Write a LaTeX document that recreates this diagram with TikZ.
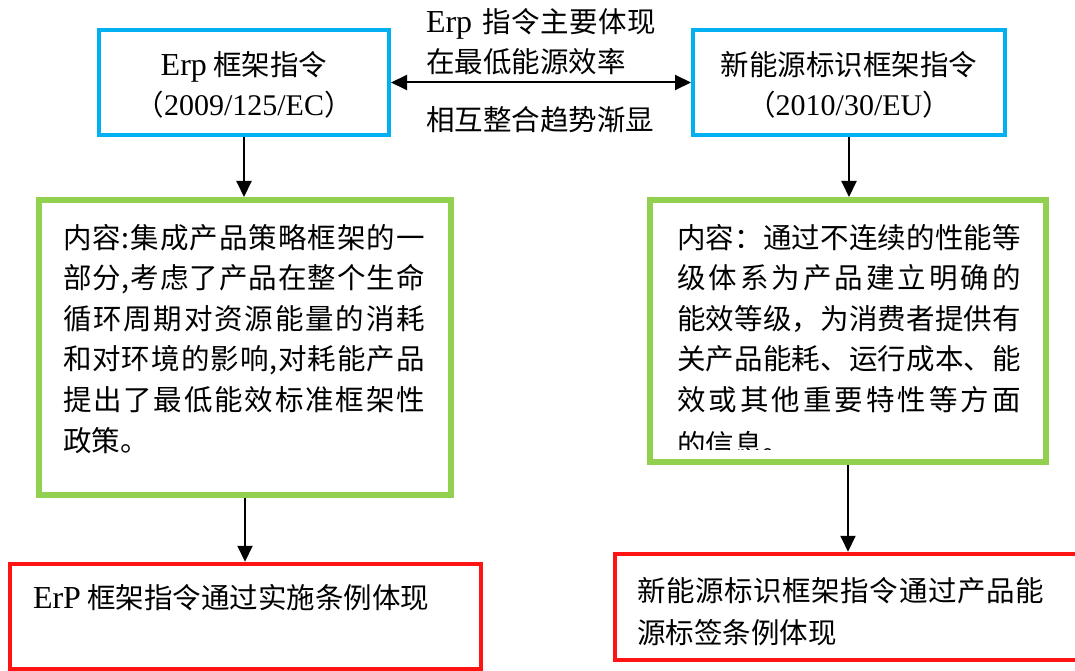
\documentclass[tikz,border=0pt]{standalone}
\usepackage{fontspec}
\setmainfont{Liberation Serif}
\newfontfamily\cjk{Noto Sans CJK SC}
\usetikzlibrary{arrows.meta}
\definecolor{boxblue}{RGB}{0,176,240}
\definecolor{boxgreen}{RGB}{146,208,80}
\definecolor{boxred}{RGB}{255,20,20}
\def\sprA#1{#1\sprB}
\def\sprB#1{\ifx#1\relax\else\hfill#1\expandafter\sprB\fi}
\newcommand\jl[2]{\makebox[#1][s]{\sprA#2\relax}}
\newcommand\fs{\fontsize{28.5}{34}\selectfont}
\newcommand\latw[1]{{\fontsize{32}{34}\selectfont\rmfamily #1}}
\newcommand\latn[1]{{\fontsize{30}{34}\selectfont\rmfamily #1}}
\tikzset{
  frame/.style={draw, inner sep=0pt},
  bluebox/.style={frame, draw=boxblue, line width=4pt},
  greenbox/.style={frame, draw=boxgreen, line width=6pt},
  redbox/.style={frame, draw=boxred, line width=4.5pt},
  txt/.style={inner sep=0pt, outer sep=0pt, font=\fs\cjk, text=black},
  arr/.style={line width=2pt, -{Triangle[length=16pt,width=15pt]}},
  darr/.style={line width=2pt, {Triangle[length=16pt,width=15pt]}-{Triangle[length=16pt,width=15pt]}}
}
\begin{document}
\begin{tikzpicture}[x=1pt,y=-1pt]
\useasboundingbox (0,0) rectangle (1075,671);
% boxes
\node[bluebox, minimum width=290pt, minimum height=105pt] (tl) at (244,82.5) {};
\node[bluebox, minimum width=312pt, minimum height=105pt] (tr) at (849,82.5) {};
\node[greenbox, minimum width=412pt, minimum height=295pt] (gl) at (245,347.5) {};
\node[greenbox, minimum width=396pt, minimum height=262pt] (gr) at (848,331) {};
\node[redbox, minimum width=471pt, minimum height=105pt] (rl) at (245.5,616.5) {};
\node[redbox, minimum width=475pt, minimum height=106pt] (rr) at (852.5,607) {};
% connectors
\draw[darr] (tl.east) -- (tr.west);
\draw[arr] (tl.south) -- (tl.south |- gl.north);
\draw[arr] (gl.south) -- (gl.south |- rl.north);
\draw[arr] (tr.south) -- (tr.south |- gr.north);
\draw[arr] (gr.south) -- (gr.south |- rr.north);
% top box texts
\node[txt, anchor=base] (tl1) at (244,76) {\latw{Erp} 框架指令};
\node[txt, anchor=base] (tl2) at (244,116) {（\latn{2009/125/EC}）};
\node[txt, anchor=base] (tr1) at (849,76) {新能源标识框架指令};
\node[txt, anchor=base] (tr2) at (849,116) {（\latn{2010/30/EU}）};
% middle labels
\node[txt, anchor=base west] (m1) at (426,33) {\latw{Erp}\hspace{10pt}\jl{174pt}{指令主要体现}};
\node[txt, anchor=base west] (m2) at (426,73) {在最低能源效率};
\node[txt, anchor=base west] (m3) at (426,131) {相互整合趋势渐显};
% left green text
\node[txt, anchor=base west] (a1) at (63,248) {\jl{362pt}{内容:集成产品策略框架的一}};
\node[txt, anchor=base west] (a2) at (63,288.6) {\jl{362pt}{部分,考虑了产品在整个生命}};
\node[txt, anchor=base west] (a3) at (63,329.2) {\jl{362pt}{循环周期对资源能量的消耗}};
\node[txt, anchor=base west] (a4) at (63,369.8) {\jl{362pt}{和对环境的影响,对耗能产品}};
\node[txt, anchor=base west] (a5) at (63,410.4) {\jl{362pt}{提出了最低能效标准框架性}};
\node[txt, anchor=base west] (a6) at (63,451) {政策。};
% right green text
\node[txt, anchor=base west] (b1) at (677,248) {\jl{344pt}{内容：通过不连续的性能等}};
\node[txt, anchor=base west] (b2) at (677,288.6) {\jl{344pt}{级体系为产品建立明确的}};
\node[txt, anchor=base west] (b3) at (677,329.2) {\jl{344pt}{能效等级，为消费者提供有}};
\node[txt, anchor=base west] (b4) at (677,369.8) {\jl{344pt}{关产品能耗、运行成本、能}};
\node[txt, anchor=base west] (b5) at (677,410.4) {\jl{344pt}{效或其他重要特性等方面}};
\begin{scope}
\clip (650,200) rectangle (1046,449);
\node[txt, anchor=base west] (b6) at (677,455) {\jl{90pt}{的信息。}};
\end{scope}
% red box texts
\node[txt, anchor=base west] (c1) at (33,608) {\latw{ErP} 框架指令通过实施条例体现};
\node[txt, anchor=base west] (d1) at (637,601) {\jl{407pt}{新能源标识框架指令通过产品能}};
\node[txt, anchor=base west] (d2) at (637,643) {源标签条例体现};
\end{tikzpicture}
\end{document}
